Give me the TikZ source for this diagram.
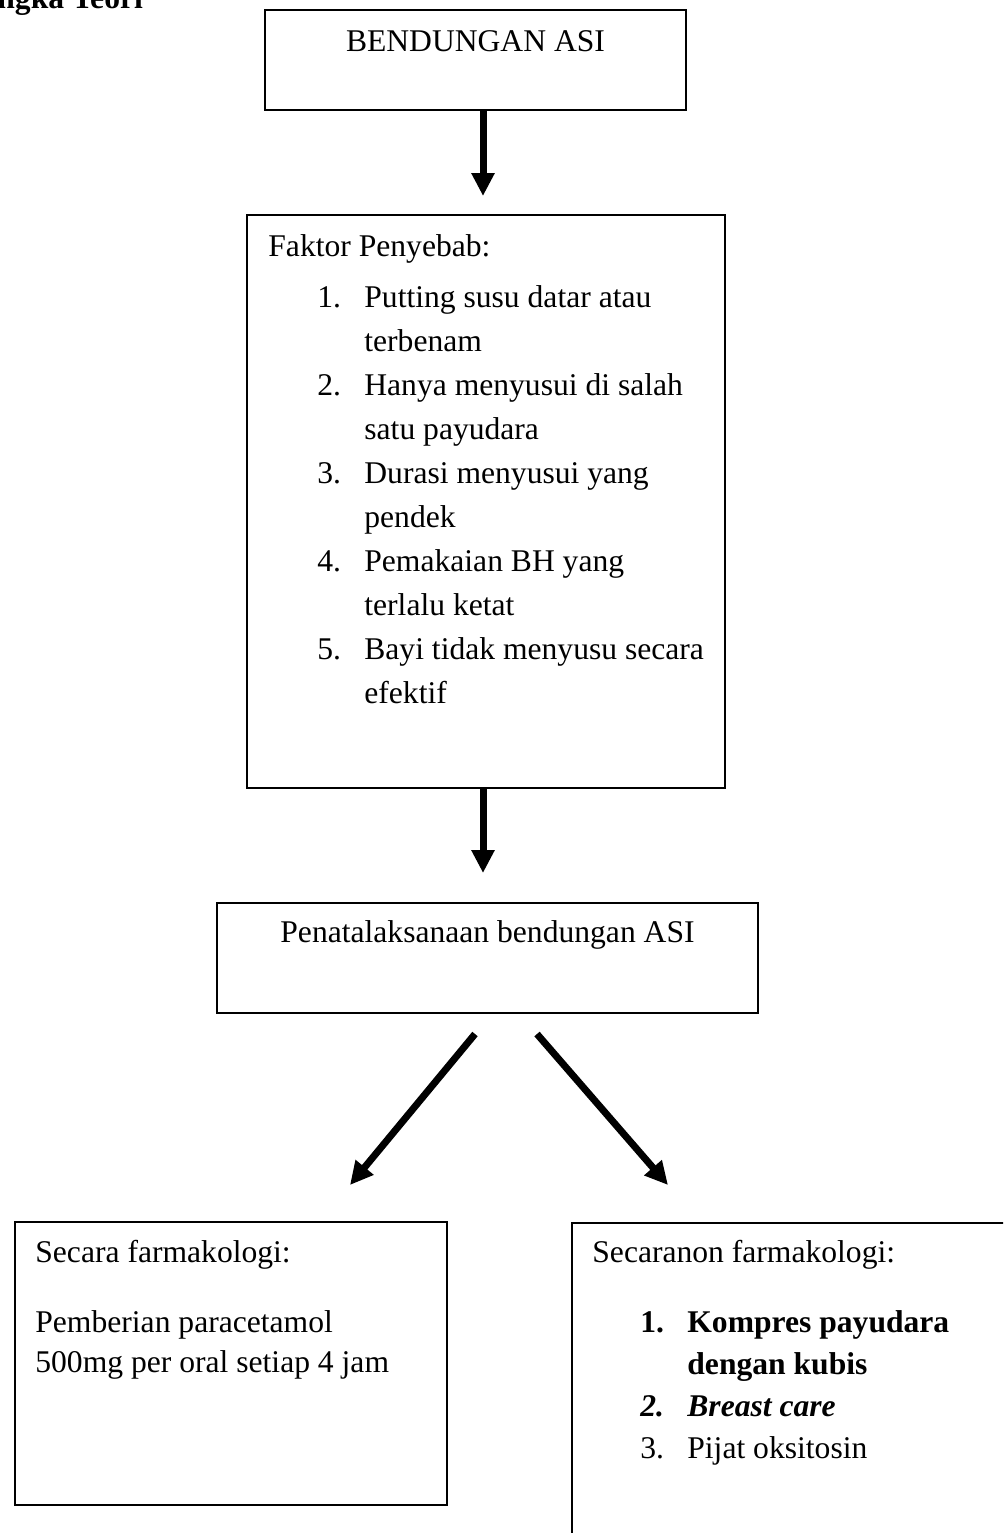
\documentclass[tikz,border=0pt]{standalone}
\usepackage{fontspec}
\setmainfont{Liberation Serif}
\usepackage{tikz}
\usetikzlibrary{arrows.meta, positioning, calc}
\tikzset{
    panel/.style={
        draw=black,
        line width=1pt,
        fill=none,
        inner sep=0pt
    },
    boxtext/.style={
        inner sep=0pt,
        anchor=base west,
        font=\fontsize{15.8}{#1}\selectfont
    },
    boxtext/.default=22,
    flowarrow/.style={
        -{Triangle[width=11pt,length=11.5pt]},
        line width=3.5pt,
        black
    }
}

\begin{document}
\begin{tikzpicture}[x=0.5pt, y=-0.5pt]
        \useasboundingbox (0,0) rectangle (1003,1533);
        \clip (0,0) rectangle (1003,1533);

        % Heading (cut off at the page edge)
        \node[boxtext, font=\fontsize{15.8}{22}\selectfont\bfseries] (heading) at (-3,8) {ngka Teori};

        % Boxes
        \node[panel, minimum width=210.5pt, minimum height=50pt] (asi) at (475.5,60) {};
        \node[panel, minimum width=239pt, minimum height=286.5pt] (sebab) at (486,501.5) {};
        \node[panel, minimum width=270.5pt, minimum height=55pt] (tata) at (487.5,958) {};
        \node[panel, minimum width=216pt, minimum height=141.5pt] (farma) at (231,1363.5) {};
        \node[panel, minimum width=234pt, minimum height=178.5pt] (nonfarma) at (806,1401.5) {};

        % Texts
        \node[boxtext, anchor=base] (asitext) at ($(asi.north)+(0,42)$) {BENDUNGAN ASI};
        \node[boxtext] (sebabtitle) at ($(sebab.north west)+(22,42)$) {Faktor Penyebab:};
        \node[boxtext] (sebablist) at ($(sebab.north west)+(71,93)$) {%
            \begin{tabular}[t]{@{}p{23.5pt}@{}l@{}}
            1. & Putting susu datar atau\\
               & terbenam\\
            2. & Hanya menyusui di salah\\
               & satu payudara\\
            3. & Durasi menyusui yang\\
               & pendek\\
            4. & Pemakaian BH yang\\
               & terlalu ketat\\
            5. & Bayi tidak menyusu secara\\
               & efektif
            \end{tabular}};
        \node[boxtext, anchor=base] (tatatext) at ($(tata.north)+(0,40)$) {Penatalaksanaan bendungan ASI};
        \node[boxtext] (farmatitle) at ($(farma.north west)+(21,41)$) {Secara farmakologi:};
        \node[boxtext=20] (farmabody) at ($(farma.north west)+(21,111)$) {%
            \begin{tabular}[t]{@{}l@{}}
            Pemberian paracetamol\\
            500mg per oral setiap 4 jam
            \end{tabular}};
        \node[boxtext] (nonfarmatitle) at ($(nonfarma.north west)+(21,40)$) {Secaranon farmakologi:};
        \node[boxtext=21] (nonfarmalist) at ($(nonfarma.north west)+(69,110)$) {%
            \begin{tabular}[t]{@{}p{23.5pt}@{}l@{}}
            \textbf{1.} & \textbf{Kompres payudara}\\
                        & \textbf{dengan kubis}\\
            \textbf{\textit{2.}} & \textbf{\textit{Breast care}}\\
            3. & Pijat oksitosin
            \end{tabular}};

        % Arrows
        \coordinate (tip1) at ($(sebab.north)+(-3,-18)$);
        \coordinate (tip2) at ($(tata.north)+(-4.5,-29)$);
        \coordinate (startL) at ($(tata.south)+(-12.5,20)$);
        \coordinate (startR) at ($(tata.south)+(49.5,20)$);
        \coordinate (tipL) at ($(farma.north)+(119,-36)$);
        \coordinate (tipR) at ($(nonfarma.north west)+(97,-37)$);
        \draw[flowarrow] (asi.south -| tip1) -- (tip1);
        \draw[flowarrow] (sebab.south -| tip2) -- (tip2);
        \draw[flowarrow] (startL) -- (tipL);
        \draw[flowarrow] (startR) -- (tipR);
    \end{tikzpicture}
\end{document}
